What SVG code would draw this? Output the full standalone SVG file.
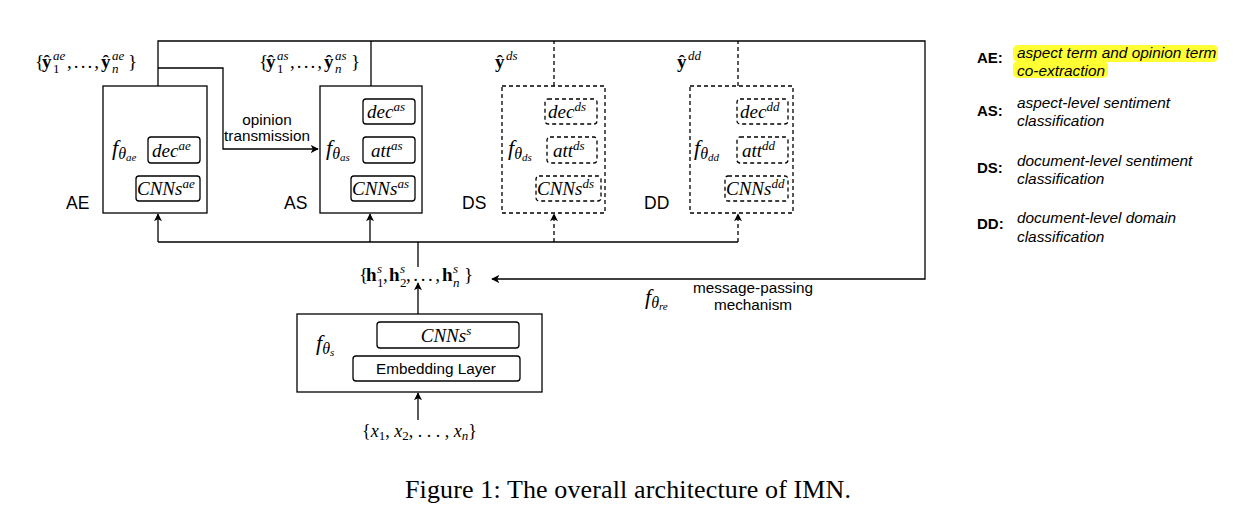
<svg xmlns="http://www.w3.org/2000/svg" width="1235" height="532" viewBox="0 0 1235 532">
<style>
.ln{fill:none;stroke:#000;stroke-width:1.3}
.ds{stroke-dasharray:4 3}
.bx{fill:#fff;stroke:#000;stroke-width:1.3}
.m{font-family:"Liberation Serif",serif;font-style:italic;font-size:19px;fill:#000}
.r{font-family:"Liberation Serif",serif;font-size:19px;fill:#000}
.b{font-family:"Liberation Serif",serif;font-weight:bold;font-size:19px;fill:#000}
.sup{font-size:13px}
.f{font-family:"Liberation Serif",serif;font-style:italic;font-size:22px;fill:#000}
.s1{font-size:16px}
.s2{font-size:11px}
.lab{font-family:"Liberation Sans",sans-serif;font-size:17.5px;fill:#000}
.t{font-family:"Liberation Sans",sans-serif;font-size:15.3px;fill:#000}
.lk{font-family:"Liberation Sans",sans-serif;font-weight:bold;font-size:15px;fill:#000}
.ld{font-family:"Liberation Sans",sans-serif;font-style:italic;font-size:15.4px;fill:#000}
</style>
<defs>
<marker id="ah" viewBox="0 0 10 10" refX="9" refY="5" markerWidth="8" markerHeight="8" markerUnits="userSpaceOnUse" orient="auto">
<path d="M0 0 L10 5 L0 10 L2.5 5 Z" fill="#000"/>
</marker>
</defs>
<rect width="1235" height="532" fill="#fff"/>

<g id="connectors">
<path class="ln" d="M158 86 V41 H925 V279 H492" marker-end="url(#ah)"/>
<path class="ln" d="M158 68 H223 V149 H318" marker-end="url(#ah)"/>
<path class="ln" d="M371 86 V41"/>
<path class="ln ds" d="M554 86 V41"/>
<path class="ln ds" d="M738 86 V41"/>
<path class="ln" d="M158 242 H738"/>
<path class="ln" d="M158 242 V214" marker-end="url(#ah)"/>
<path class="ln" d="M370 242 V214" marker-end="url(#ah)"/>
<path class="ln ds" d="M554 242 V214" marker-end="url(#ah)"/>
<path class="ln ds" d="M738 242 V214" marker-end="url(#ah)"/>
<path class="ln" d="M418 242 V267"/>
<path class="ln" d="M418 314 V283" marker-end="url(#ah)"/>
<path class="ln" d="M418 420 V393" marker-end="url(#ah)"/>
<text class="t" x="267" y="125" text-anchor="middle">opinion</text>
<text class="t" x="267" y="141" text-anchor="middle">transmission</text>
<text class="f" x="645" y="304">f<tspan class="s1" dy="4">θ</tspan><tspan class="s2" dy="2">re</tspan></text>
<text class="t" x="753" y="293" text-anchor="middle">message-passing</text>
<text class="t" x="753" y="310" text-anchor="middle">mechanism</text>
</g>

<g id="ae-out">
<text class="r" x="35" y="68">{</text>
<text class="b" x="42" y="68">ŷ</text>
<text class="m sup" x="53" y="60">ae</text>
<text class="r sup" x="53" y="73">1</text>
<text class="r" x="67" y="68" textLength="32" lengthAdjust="spacing">, . . . ,</text>
<text class="b" x="101" y="68">ŷ</text>
<text class="m sup" x="112" y="60">ae</text>
<text class="m sup" x="112" y="73">n</text>
<text class="r" x="128" y="68">}</text>
</g>

<g id="as-out">
<text class="r" x="259" y="68">{</text>
<text class="b" x="266" y="68">ŷ</text>
<text class="m sup" x="277" y="60">as</text>
<text class="r sup" x="277" y="73">1</text>
<text class="r" x="290" y="68" textLength="32" lengthAdjust="spacing">, . . . ,</text>
<text class="b" x="324" y="68">ŷ</text>
<text class="m sup" x="335" y="60">as</text>
<text class="m sup" x="335" y="73">n</text>
<text class="r" x="351" y="68">}</text>
</g>

<g id="ds-out">
<text class="b" x="495" y="68">ŷ</text>
<text class="m sup" x="506" y="60">ds</text>
</g>

<g id="dd-out">
<text class="b" x="677" y="68">ŷ</text>
<text class="m sup" x="688" y="60">dd</text>
</g>

<g id="AE">
<rect class="bx" x="103" y="86" width="104" height="127"/>
<text class="f" x="112" y="155">f<tspan class="s1" dy="4">θ</tspan><tspan class="s2" dy="2">ae</tspan></text>
<rect class="bx" x="148" y="137" width="52" height="26" rx="3"/>
<text class="m" x="152" y="157">dec<tspan class="sup" dy="-7">ae</tspan></text>
<rect class="bx" x="136" y="176" width="64" height="25" rx="3"/>
<text class="m" x="137" y="195">CNNs<tspan class="sup" dy="-7">ae</tspan></text>
<text class="lab" x="66" y="209">AE</text>
</g>

<g id="AS">
<rect class="bx" x="320" y="86" width="102" height="127"/>
<text class="f" x="326" y="155">f<tspan class="s1" dy="4">θ</tspan><tspan class="s2" dy="2">as</tspan></text>
<rect class="bx" x="363" y="99" width="52" height="25" rx="3"/>
<text class="m" x="367" y="118">dec<tspan class="sup" dy="-7">as</tspan></text>
<rect class="bx" x="363" y="137" width="52" height="26" rx="3"/>
<text class="m" x="371" y="157">att<tspan class="sup" dy="-7">as</tspan></text>
<rect class="bx" x="351" y="176" width="64" height="25" rx="3"/>
<text class="m" x="352" y="195">CNNs<tspan class="sup" dy="-7">as</tspan></text>
<text class="lab" x="284" y="209">AS</text>
</g>

<g id="DS">
<rect class="bx ds" x="502" y="86" width="103" height="127"/>
<text class="f" x="508" y="155">f<tspan class="s1" dy="4">θ</tspan><tspan class="s2" dy="2">ds</tspan></text>
<rect class="bx ds" x="545" y="99" width="52" height="25" rx="3"/>
<text class="m" x="548" y="118">dec<tspan class="sup" dy="-7">ds</tspan></text>
<rect class="bx ds" x="547" y="137" width="50" height="26" rx="3"/>
<text class="m" x="553" y="157">att<tspan class="sup" dy="-7">ds</tspan></text>
<rect class="bx ds" x="536" y="176" width="65" height="25" rx="3"/>
<text class="m" x="537" y="195">CNNs<tspan class="sup" dy="-7">ds</tspan></text>
<text class="lab" x="462" y="209">DS</text>
</g>

<g id="DD">
<rect class="bx ds" x="690" y="86" width="103" height="127"/>
<text class="f" x="694" y="155">f<tspan class="s1" dy="4">θ</tspan><tspan class="s2" dy="2">dd</tspan></text>
<rect class="bx ds" x="737" y="99" width="51" height="25" rx="3"/>
<text class="m" x="740" y="118">dec<tspan class="sup" dy="-7">dd</tspan></text>
<rect class="bx ds" x="737" y="137" width="51" height="26" rx="3"/>
<text class="m" x="742" y="157">att<tspan class="sup" dy="-7">dd</tspan></text>
<rect class="bx ds" x="725" y="176" width="63" height="25" rx="3"/>
<text class="m" x="726" y="195">CNNs<tspan class="sup" dy="-7">dd</tspan></text>
<text class="lab" x="644" y="209">DD</text>
</g>

<g id="hidden">
<text class="r" x="359" y="281">{</text>
<text class="b" x="366" y="281">h</text>
<text class="m sup" x="377" y="273">s</text>
<text class="r sup" x="377" y="287">1</text>
<text class="r" x="383" y="281">,</text>
<text class="b" x="389" y="281">h</text>
<text class="m sup" x="400" y="273">s</text>
<text class="r sup" x="400" y="287">2</text>
<text class="r" x="406" y="281" textLength="34" lengthAdjust="spacing">, . . . ,</text>
<text class="b" x="442" y="281">h</text>
<text class="m sup" x="453" y="273">s</text>
<text class="m sup" x="453" y="287">n</text>
<text class="r" x="464" y="281">}</text>
</g>

<g id="shared">
<rect class="bx" x="297" y="314" width="245" height="78"/>
<text class="f" x="316" y="350">f<tspan class="s1" dy="4">θ</tspan><tspan class="s2" dy="2">s</tspan></text>
<rect class="bx" x="377" y="322" width="142" height="26" rx="3"/>
<text class="m" x="446" y="342" text-anchor="middle">CNNs<tspan class="sup" dy="-7">s</tspan></text>
<rect class="bx" x="353" y="356" width="167" height="25" rx="3"/>
<text class="t" x="436" y="374" text-anchor="middle">Embedding Layer</text>
</g>

<g id="input">
<text class="r" x="362" y="437" style="font-size:18px">{<tspan class="m" style="font-size:18px">x</tspan><tspan class="sup" dy="3">1</tspan><tspan dy="-3">, </tspan><tspan class="m" style="font-size:18px">x</tspan><tspan class="sup" dy="3">2</tspan><tspan dy="-3">, . . . , </tspan><tspan class="m" style="font-size:18px">x</tspan><tspan class="m sup" dy="3">n</tspan><tspan dy="-3">}</tspan></text>
</g>

<g id="legend">
<rect x="1013" y="45" width="205" height="17" rx="5" fill="#ffff33"/>
<rect x="1013" y="61" width="95" height="17" rx="5" fill="#ffff33"/>
<text class="lk" x="977" y="63">AE:</text>
<text class="ld" x="1017" y="58">aspect term and opinion term</text>
<text class="ld" x="1017" y="76">co-extraction</text>
<text class="lk" x="977" y="116">AS:</text>
<text class="ld" x="1017" y="108">aspect-level sentiment</text>
<text class="ld" x="1017" y="126">classification</text>
<text class="lk" x="977" y="173">DS:</text>
<text class="ld" x="1017" y="166">document-level sentiment</text>
<text class="ld" x="1017" y="184">classification</text>
<text class="lk" x="977" y="229">DD:</text>
<text class="ld" x="1017" y="223">document-level domain</text>
<text class="ld" x="1017" y="242">classification</text>
</g>

<text class="r" x="405" y="498" style="font-size:26px" textLength="446" lengthAdjust="spacing">Figure 1: The overall architecture of IMN.</text>
</svg>
